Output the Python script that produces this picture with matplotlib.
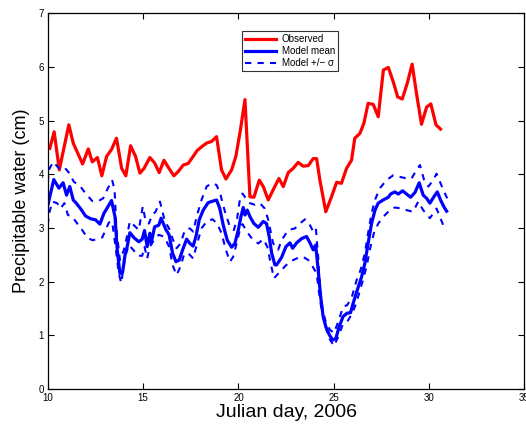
import matplotlib.pyplot as plt

plt.rcParams['font.family'] = ['Liberation Sans', 'DejaVu Sans']

# Наблюдения (красная линия)
obs_day = [10.1, 10.33, 10.6, 11.1, 11.33, 11.82, 12.12, 12.33, 12.6, 12.83, 13.08, 13.34, 13.6,
           13.87, 14.09, 14.34, 14.6, 14.83, 15.05, 15.35, 15.6, 15.84, 16.09, 16.35, 16.61, 16.84,
           17.1, 17.36, 17.62, 17.83, 18.1, 18.33, 18.59, 18.85, 19.11, 19.34, 19.64, 19.86, 20.1,
           20.34, 20.6, 20.81, 21.09, 21.3, 21.56, 21.82, 22.12, 22.35, 22.61, 22.87, 23.13, 23.39,
           23.66, 23.92, 24.1, 24.27, 24.58, 24.88, 25.15, 25.4, 25.67, 25.93, 26.1, 26.37, 26.58,
           26.8, 27.07, 27.33, 27.6, 27.86, 28.12, 28.35, 28.59, 28.85, 29.11, 29.34, 29.6, 29.87,
           30.09, 30.36, 30.6]
obs_pw = [4.48, 4.79, 4.08, 4.92, 4.58, 4.19, 4.47, 4.23, 4.31, 3.97, 4.33, 4.46, 4.67,
          4.11, 3.97, 4.53, 4.33, 4.02, 4.11, 4.31, 4.21, 4.03, 4.26, 4.11, 3.97, 4.05,
          4.17, 4.2, 4.33, 4.44, 4.52, 4.58, 4.61, 4.7, 4.08, 3.91, 4.08, 4.33, 4.82,
          5.39, 3.58, 3.57, 3.89, 3.77, 3.52, 3.71, 3.92, 3.77, 4.03, 4.11, 4.22, 4.15,
          4.16, 4.29, 4.29, 3.89, 3.3, 3.58, 3.85, 3.83, 4.11, 4.26, 4.67, 4.76, 4.95,
          5.32, 5.3, 5.07, 5.94, 5.99, 5.72, 5.44, 5.4, 5.69, 6.05, 5.5, 4.93, 5.25,
          5.31, 4.92, 4.84]

# Среднее по модели
mean_day = [10.02, 10.1, 10.31, 10.58, 10.8, 10.98, 11.15, 11.33, 11.49, 11.71, 11.98, 12.24, 12.5,
            12.73, 12.94, 13.16, 13.34, 13.52, 13.64, 13.78, 13.92, 14.04, 14.16, 14.3, 14.51, 14.77,
            14.95, 15.07, 15.21, 15.35, 15.42, 15.6, 15.82, 15.94, 16.19, 16.36, 16.54, 16.72, 16.89,
            17.07, 17.28, 17.45, 17.62, 17.77, 17.94, 18.15, 18.41, 18.67, 18.85, 19.02, 19.2, 19.41,
            19.64, 19.81, 19.99, 20.13, 20.25, 20.34, 20.46, 20.6, 20.81, 21.04, 21.3, 21.47, 21.61,
            21.74, 21.91, 22.0, 22.26, 22.49, 22.7, 22.84, 23.05, 23.31, 23.57, 23.75, 23.92, 24.05,
            24.18, 24.31, 24.44, 24.58, 24.76, 24.94, 25.11, 25.28, 25.49, 25.7, 25.88, 26.02, 26.23,
            26.46, 26.63, 26.8, 26.98, 27.16, 27.33, 27.59, 27.86, 27.98, 28.2, 28.38, 28.61, 28.82,
            29.03, 29.26, 29.48, 29.69, 29.87, 30.04, 30.25, 30.43, 30.6, 30.78, 30.92]
mean_pw = [3.45, 3.58, 3.9, 3.74, 3.84, 3.61, 3.77, 3.52, 3.46, 3.36, 3.22, 3.17, 3.15,
           3.07, 3.27, 3.4, 3.51, 3.21, 2.59, 2.15, 2.17, 2.48, 2.65, 2.91, 2.82, 2.74,
           2.79, 2.95, 2.65, 2.9, 2.71, 3.02, 3.05, 3.18, 2.97, 2.87, 2.53, 2.37, 2.4,
           2.59, 2.79, 2.71, 2.66, 2.84, 3.15, 3.33, 3.47, 3.5, 3.52, 3.36, 3.05, 2.77,
           2.64, 2.71, 2.96, 3.21, 3.38, 3.24, 3.33, 3.21, 3.08, 3.01, 3.12, 3.08, 2.84,
           2.53, 2.31, 2.31, 2.45, 2.65, 2.72, 2.62, 2.72, 2.8, 2.84, 2.72, 2.59, 2.68,
           2.22, 1.72, 1.35, 1.16, 1.01, 0.91, 0.94, 1.16, 1.35, 1.41, 1.42, 1.6, 1.84,
           2.09, 2.34, 2.71, 3.08, 3.33, 3.46, 3.52, 3.57, 3.63, 3.67, 3.63, 3.69, 3.63,
           3.57, 3.66, 3.84, 3.61, 3.55, 3.46, 3.58, 3.67, 3.52, 3.39, 3.31]

# Верхняя граница (среднее + sigma)
up_day = [10.0, 10.05, 10.28, 10.58, 10.84, 11.1, 11.36, 11.71, 11.98, 12.33, 12.6, 12.9, 13.11,
          13.37, 13.5, 13.6, 13.78, 13.99, 14.13, 14.3, 14.51, 14.77, 14.98, 15.13, 15.3, 15.47,
          15.65, 15.88, 16.14, 16.36, 16.57, 16.75, 16.96, 17.19, 17.45, 17.62, 17.83, 18.06, 18.33,
          18.59, 18.85, 19.06, 19.29, 19.55, 19.76, 19.93, 20.07, 20.21, 20.39, 20.6, 20.86, 21.12,
          21.38, 21.56, 21.82, 22.08, 22.26, 22.61, 22.96, 23.22, 23.49, 23.75, 23.92, 24.06, 24.18,
          24.27, 24.41, 24.58, 24.8, 25.01, 25.23, 25.49, 25.7, 25.93, 26.2, 26.41, 26.63, 26.8,
          26.98, 27.16, 27.42, 27.77, 28.12, 28.47, 28.82, 29.08, 29.34, 29.52, 29.73, 29.96, 30.22,
          30.39, 30.6, 30.83, 30.95]
up_pw = [3.85, 4.08, 4.23, 4.11, 4.14, 4.03, 3.86, 3.77, 3.64, 3.5, 3.49, 3.55, 3.71,
         3.89, 3.71, 2.96, 2.4, 2.59, 2.81, 3.12, 3.05, 2.96, 3.4, 3.12, 3.08, 3.24,
         3.3, 3.49, 3.12, 2.99, 2.77, 2.62, 2.71, 2.96, 2.99, 2.93, 3.24, 3.52, 3.77,
         3.83, 3.8, 3.61, 3.3, 3.02, 2.96, 3.18, 3.52, 3.64, 3.55, 3.46, 3.43, 3.46,
         3.36, 3.15, 2.71, 2.59, 2.77, 2.96, 2.99, 3.08, 3.16, 3.05, 2.93, 2.99, 2.46,
         1.91, 1.47, 1.25, 1.1, 1.04, 1.25, 1.53, 1.56, 1.69, 2.03, 2.22, 2.53, 2.9,
         3.27, 3.52, 3.74, 3.89, 3.98, 3.95, 3.92, 3.92, 4.08, 4.17, 3.9, 3.77, 3.89,
         4.01, 3.83, 3.64, 3.55]

# Нижняя граница (среднее - sigma)
lo_day = [10.0, 10.05, 10.23, 10.49, 10.66, 10.87, 11.05, 11.28, 11.5, 11.8, 12.06, 12.33, 12.62,
          12.85, 13.03, 13.2, 13.37, 13.55, 13.72, 13.85, 13.95, 14.08, 14.25, 14.48, 14.72, 14.95,
          15.07, 15.21, 15.35, 15.56, 15.82, 15.99, 16.14, 16.36, 16.54, 16.75, 16.96, 17.14, 17.36,
          17.62, 17.83, 18.06, 18.36, 18.64, 18.88, 19.11, 19.34, 19.55, 19.72, 19.9, 20.07, 20.21,
          20.39, 20.56, 20.77, 21.04, 21.3, 21.51, 21.69, 21.86, 22.17, 22.43, 22.7, 23.05, 23.39,
          23.66, 23.89, 24.1, 24.23, 24.36, 24.54, 24.76, 25.01, 25.23, 25.46, 25.7, 25.98, 26.23,
          26.46, 26.72, 26.89, 27.1, 27.33, 27.6, 27.86, 28.2, 28.56, 28.82, 29.16, 29.43, 29.69,
          30.04, 30.39, 30.56, 30.74, 30.92]
lo_pw = [3.05, 3.24, 3.49, 3.46, 3.36, 3.46, 3.24, 3.21, 3.1, 2.96, 2.82, 2.77, 2.79,
         2.82, 2.96, 3.1, 3.12, 2.65, 2.15, 1.97, 2.22, 2.5, 2.68, 2.59, 2.48, 2.48,
         2.65, 2.43, 2.65, 2.77, 2.87, 2.85, 2.81, 2.65, 2.31, 2.12, 2.28, 2.5, 2.53,
         2.43, 2.71, 2.99, 3.13, 3.16, 3.08, 2.9, 2.59, 2.37, 2.46, 2.71, 2.96, 3.07,
         2.96, 2.87, 2.77, 2.71, 2.79, 2.65, 2.34, 2.06, 2.18, 2.28, 2.37, 2.43, 2.46,
         2.4, 2.28, 2.15, 1.78, 1.47, 1.19, 0.94, 0.8, 0.97, 1.19, 1.25, 1.41, 1.66,
         1.94, 2.28, 2.59, 2.9, 3.08, 3.21, 3.3, 3.38, 3.36, 3.33, 3.3, 3.49, 3.33,
         3.18, 3.36, 3.21, 3.05, 2.97]

fig = plt.figure(figsize=(5.26, 4.25), dpi=100)
ax = fig.add_axes([0.091, 0.085, 0.906, 0.884])

ax.plot(obs_day, obs_pw, color='red', linewidth=2.3, label='Observed')
ax.plot(mean_day, mean_pw, color='blue', linewidth=2.3, label='Model mean')
ax.plot(up_day, up_pw, color='blue', linewidth=1.5, linestyle=(0, (3, 3)), label='Model +/\u2212 \u03c3')
ax.plot(lo_day, lo_pw, color='blue', linewidth=1.5, linestyle=(0, (3, 3)))

ax.set_xlim(10, 35)
ax.set_ylim(0, 7)
ax.set_xticks([10, 15, 20, 25, 30, 35])
ax.set_yticks(range(8))
ax.tick_params(direction='in', top=True, right=True, labelsize=7, length=4, pad=3)
for s in ax.spines.values():
    s.set_linewidth(0.9)

ax.set_xlabel('Julian day, 2006', fontsize=14, labelpad=1)
ax.set_ylabel('Precipitable water (cm)', fontsize=13, labelpad=6)

leg = ax.legend(loc='upper left', bbox_to_anchor=(0.407, 0.952), borderaxespad=0,
                fontsize=7, frameon=True, fancybox=False, handlelength=3.2,
                borderpad=0.3, labelspacing=0.2, handletextpad=0.6)
leg.get_frame().set_edgecolor('black')
leg.get_frame().set_linewidth(0.8)

fig.savefig('out.png', dpi=100)
